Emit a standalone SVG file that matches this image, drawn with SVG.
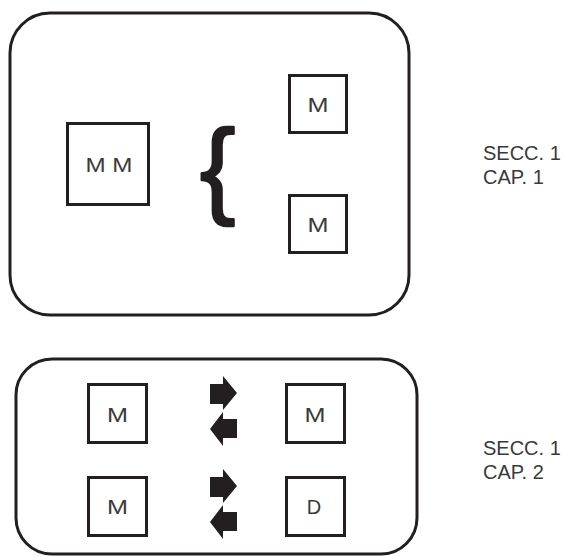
<svg xmlns="http://www.w3.org/2000/svg" width="563" height="556" viewBox="0 0 563 556">
  <style>
    .frame { fill: none; stroke: #231f20; stroke-width: 3; }
    .box { fill: #ffffff; stroke: #231f20; stroke-width: 3; }
    .lbl { font-family: "Liberation Sans", Arial, sans-serif; font-size: 20px; fill: #3a3a3a; text-anchor: middle; }
    .side { font-family: "Liberation Sans", Arial, sans-serif; font-size: 20px; fill: #3a3a3a; }
    .arrow { fill: #231f20; }
  </style>
  <rect width="563" height="556" fill="#ffffff"/>
  <g id="section1">
    <rect class="frame" x="10" y="13" width="399" height="302" rx="40" ry="40"/>
  </g>
  <g id="node-mm">
    <rect class="box" x="67.5" y="123.5" width="81" height="81"/>
    <text class="lbl" x="109" y="172" textLength="47" lengthAdjust="spacingAndGlyphs">M M</text>
  </g>
  <g id="brace">
    <text x="200" y="204" font-family="Liberation Sans, Arial, sans-serif" font-size="106" fill="#231f20" stroke="#231f20" stroke-width="2.5" stroke-linejoin="round">{</text>
  </g>
  <g id="node-m1">
    <rect class="box" x="289.5" y="75.5" width="57" height="57"/>
    <text class="lbl" x="318" y="112" textLength="21" lengthAdjust="spacingAndGlyphs">M</text>
  </g>
  <g id="node-m2">
    <rect class="box" x="289.5" y="195.5" width="57" height="57"/>
    <text class="lbl" x="318" y="232" textLength="21" lengthAdjust="spacingAndGlyphs">M</text>
  </g>
  <g id="label1">
    <text class="side" x="483" y="160">SECC. 1</text>
    <text class="side" x="483" y="184">CAP. 1</text>
  </g>
  <g id="section2">
    <rect class="frame" x="16" y="359" width="401" height="195" rx="36" ry="36"/>
  </g>
  <g id="node-m3">
    <rect class="box" x="88.5" y="384.5" width="58" height="58"/>
    <text class="lbl" x="117.5" y="422" textLength="21" lengthAdjust="spacingAndGlyphs">M</text>
  </g>
  <g id="node-m4">
    <rect class="box" x="286.5" y="384.5" width="58" height="58"/>
    <text class="lbl" x="315" y="422" textLength="21" lengthAdjust="spacingAndGlyphs">M</text>
  </g>
  <g id="node-m5">
    <rect class="box" x="88.5" y="477.5" width="58" height="58"/>
    <text class="lbl" x="117.5" y="514" textLength="21" lengthAdjust="spacingAndGlyphs">M</text>
  </g>
  <g id="node-d">
    <rect class="box" x="286.5" y="477.5" width="58" height="58"/>
    <text class="lbl" x="314" y="514">D</text>
  </g>
  <g id="connectors">
    <polygon class="arrow" points="210,384 223,384 223,376 237,393 223,410 223,404 210,404"/>
    <polygon class="arrow" points="237,419 223,419 223,412 210,429 223,446 223,438 237,438"/>
    <polygon class="arrow" points="210,477 223,477 223,469 237,486 223,503 223,497 210,497"/>
    <polygon class="arrow" points="237,512 223,512 223,505 210,522 223,539 223,531 237,531"/>
  </g>
  <g id="label2">
    <text class="side" x="483" y="455">SECC. 1</text>
    <text class="side" x="483" y="479">CAP. 2</text>
  </g>
</svg>
